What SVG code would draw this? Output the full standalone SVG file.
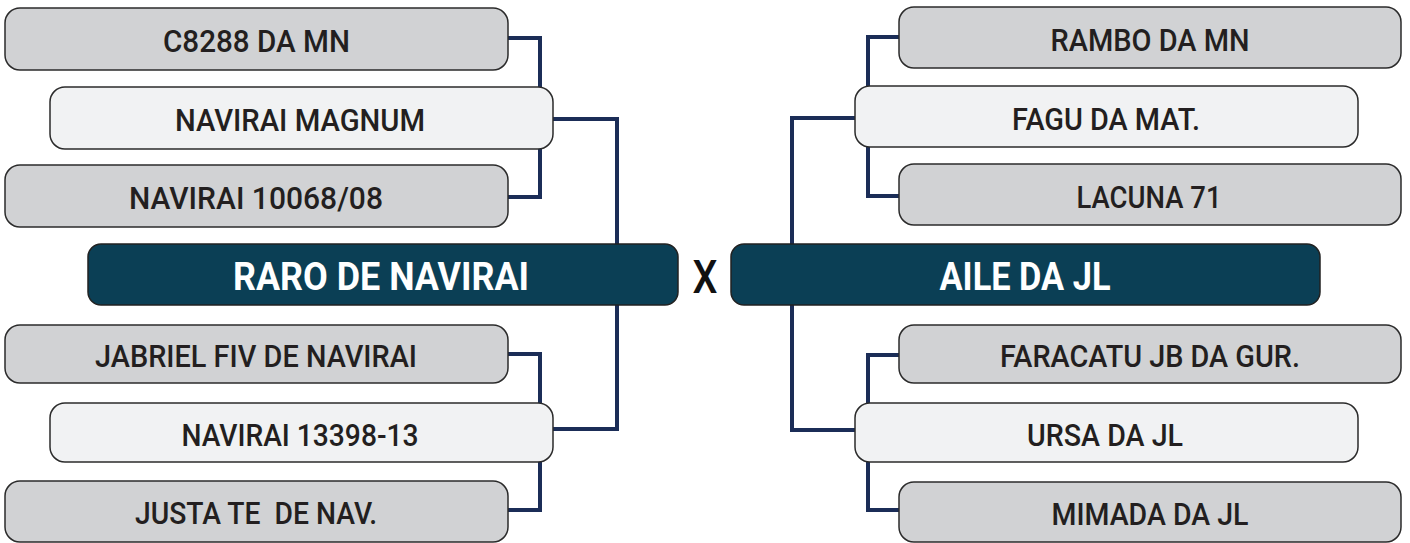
<svg xmlns="http://www.w3.org/2000/svg" width="1410" height="543" viewBox="0 0 1410 543">
<style>
.g{fill:#d1d2d4;stroke:#2b2b2b;stroke-width:1.5}
.l{fill:#f1f2f3;stroke:#2b2b2b;stroke-width:1.5}
.d{fill:#0b3f55;stroke:#222;stroke-width:1.5}
.t{font-family:Roboto,"Liberation Sans",sans-serif;font-weight:500;font-size:31px;fill:#231f20;text-anchor:middle;white-space:pre}
.tw{font-family:Roboto,"Liberation Sans",sans-serif;font-weight:700;font-size:38px;fill:#ffffff;text-anchor:middle}
.c{fill:none;stroke:#1b2d57;stroke-width:4}
</style>
<g id="connectors">
<polyline class="c" points="508,38 540,38 540,87"/>
<polyline class="c" points="540,149 540,197 508,197"/>
<polyline class="c" points="553,119 617,119 617,244"/>
<polyline class="c" points="617,305 617,429 553,429"/>
<polyline class="c" points="508,354 540,354 540,403"/>
<polyline class="c" points="540,462 540,510 508,510"/>
<polyline class="c" points="899,37 868,37 868,86"/>
<polyline class="c" points="868,147 868,196 899,196"/>
<polyline class="c" points="855,118 792,118 792,244"/>
<polyline class="c" points="792,305 792,430 855,430"/>
<polyline class="c" points="899,355 868,355 868,403"/>
<polyline class="c" points="868,462 868,510 899,510"/>
</g>
<g id="n1"><rect class="g" x="5" y="8" width="503" height="62" rx="15"/><text class="t" x="256.5" y="52" textLength="187" lengthAdjust="spacingAndGlyphs">C8288 DA MN</text></g>
<g id="n2"><rect class="l" x="50" y="87" width="503" height="62" rx="15"/><text class="t" x="300" y="131" textLength="250" lengthAdjust="spacingAndGlyphs">NAVIRAI MAGNUM</text></g>
<g id="n3"><rect class="g" x="5" y="165" width="503" height="62" rx="15"/><text class="t" x="256" y="209" textLength="254" lengthAdjust="spacingAndGlyphs">NAVIRAI 10068/08</text></g>
<g id="n4"><rect class="d" x="88" y="244" width="590" height="61" rx="13"/><text class="tw" x="381" y="290" textLength="296" lengthAdjust="spacingAndGlyphs">RARO DE NAVIRAI</text></g>
<g id="n5"><rect class="g" x="5" y="325" width="503" height="58" rx="15"/><text class="t" x="256" y="367" textLength="322" lengthAdjust="spacingAndGlyphs">JABRIEL FIV DE NAVIRAI</text></g>
<g id="n6"><rect class="l" x="50" y="403" width="503" height="59" rx="15"/><text class="t" x="300" y="446" textLength="237" lengthAdjust="spacingAndGlyphs">NAVIRAI 13398-13</text></g>
<g id="n7"><rect class="g" x="5" y="481" width="503" height="61" rx="15"/><text class="t" x="256" y="524" textLength="242" lengthAdjust="spacingAndGlyphs" xml:space="preserve">JUSTA TE  DE NAV.</text></g>
<g id="vs"><text x="705" y="293" font-family="Roboto,'Liberation Sans',sans-serif" font-size="46" font-weight="500" fill="#111" text-anchor="middle" textLength="25" lengthAdjust="spacingAndGlyphs">X</text></g>
<g id="n8"><rect class="g" x="899" y="7" width="502" height="61" rx="15"/><text class="t" x="1150" y="51" textLength="199" lengthAdjust="spacingAndGlyphs">RAMBO DA MN</text></g>
<g id="n9"><rect class="l" x="855" y="86" width="503" height="61" rx="15"/><text class="t" x="1106" y="130" textLength="188" lengthAdjust="spacingAndGlyphs">FAGU DA MAT.</text></g>
<g id="n10"><rect class="g" x="899" y="164" width="502" height="61" rx="15"/><text class="t" x="1149" y="208" textLength="145" lengthAdjust="spacingAndGlyphs">LACUNA 71</text></g>
<g id="n11"><rect class="d" x="731" y="244" width="589" height="61" rx="13"/><text class="tw" x="1025" y="290" textLength="171" lengthAdjust="spacingAndGlyphs">AILE DA JL</text></g>
<g id="n12"><rect class="g" x="899" y="325" width="502" height="58" rx="15"/><text class="t" x="1150" y="367" textLength="300" lengthAdjust="spacingAndGlyphs">FARACATU JB DA GUR.</text></g>
<g id="n13"><rect class="l" x="855" y="403" width="503" height="59" rx="15"/><text class="t" x="1105" y="446" textLength="156" lengthAdjust="spacingAndGlyphs">URSA DA JL</text></g>
<g id="n14"><rect class="g" x="899" y="482" width="502" height="60" rx="15"/><text class="t" x="1150" y="525" textLength="197" lengthAdjust="spacingAndGlyphs">MIMADA DA JL</text></g>
</svg>
